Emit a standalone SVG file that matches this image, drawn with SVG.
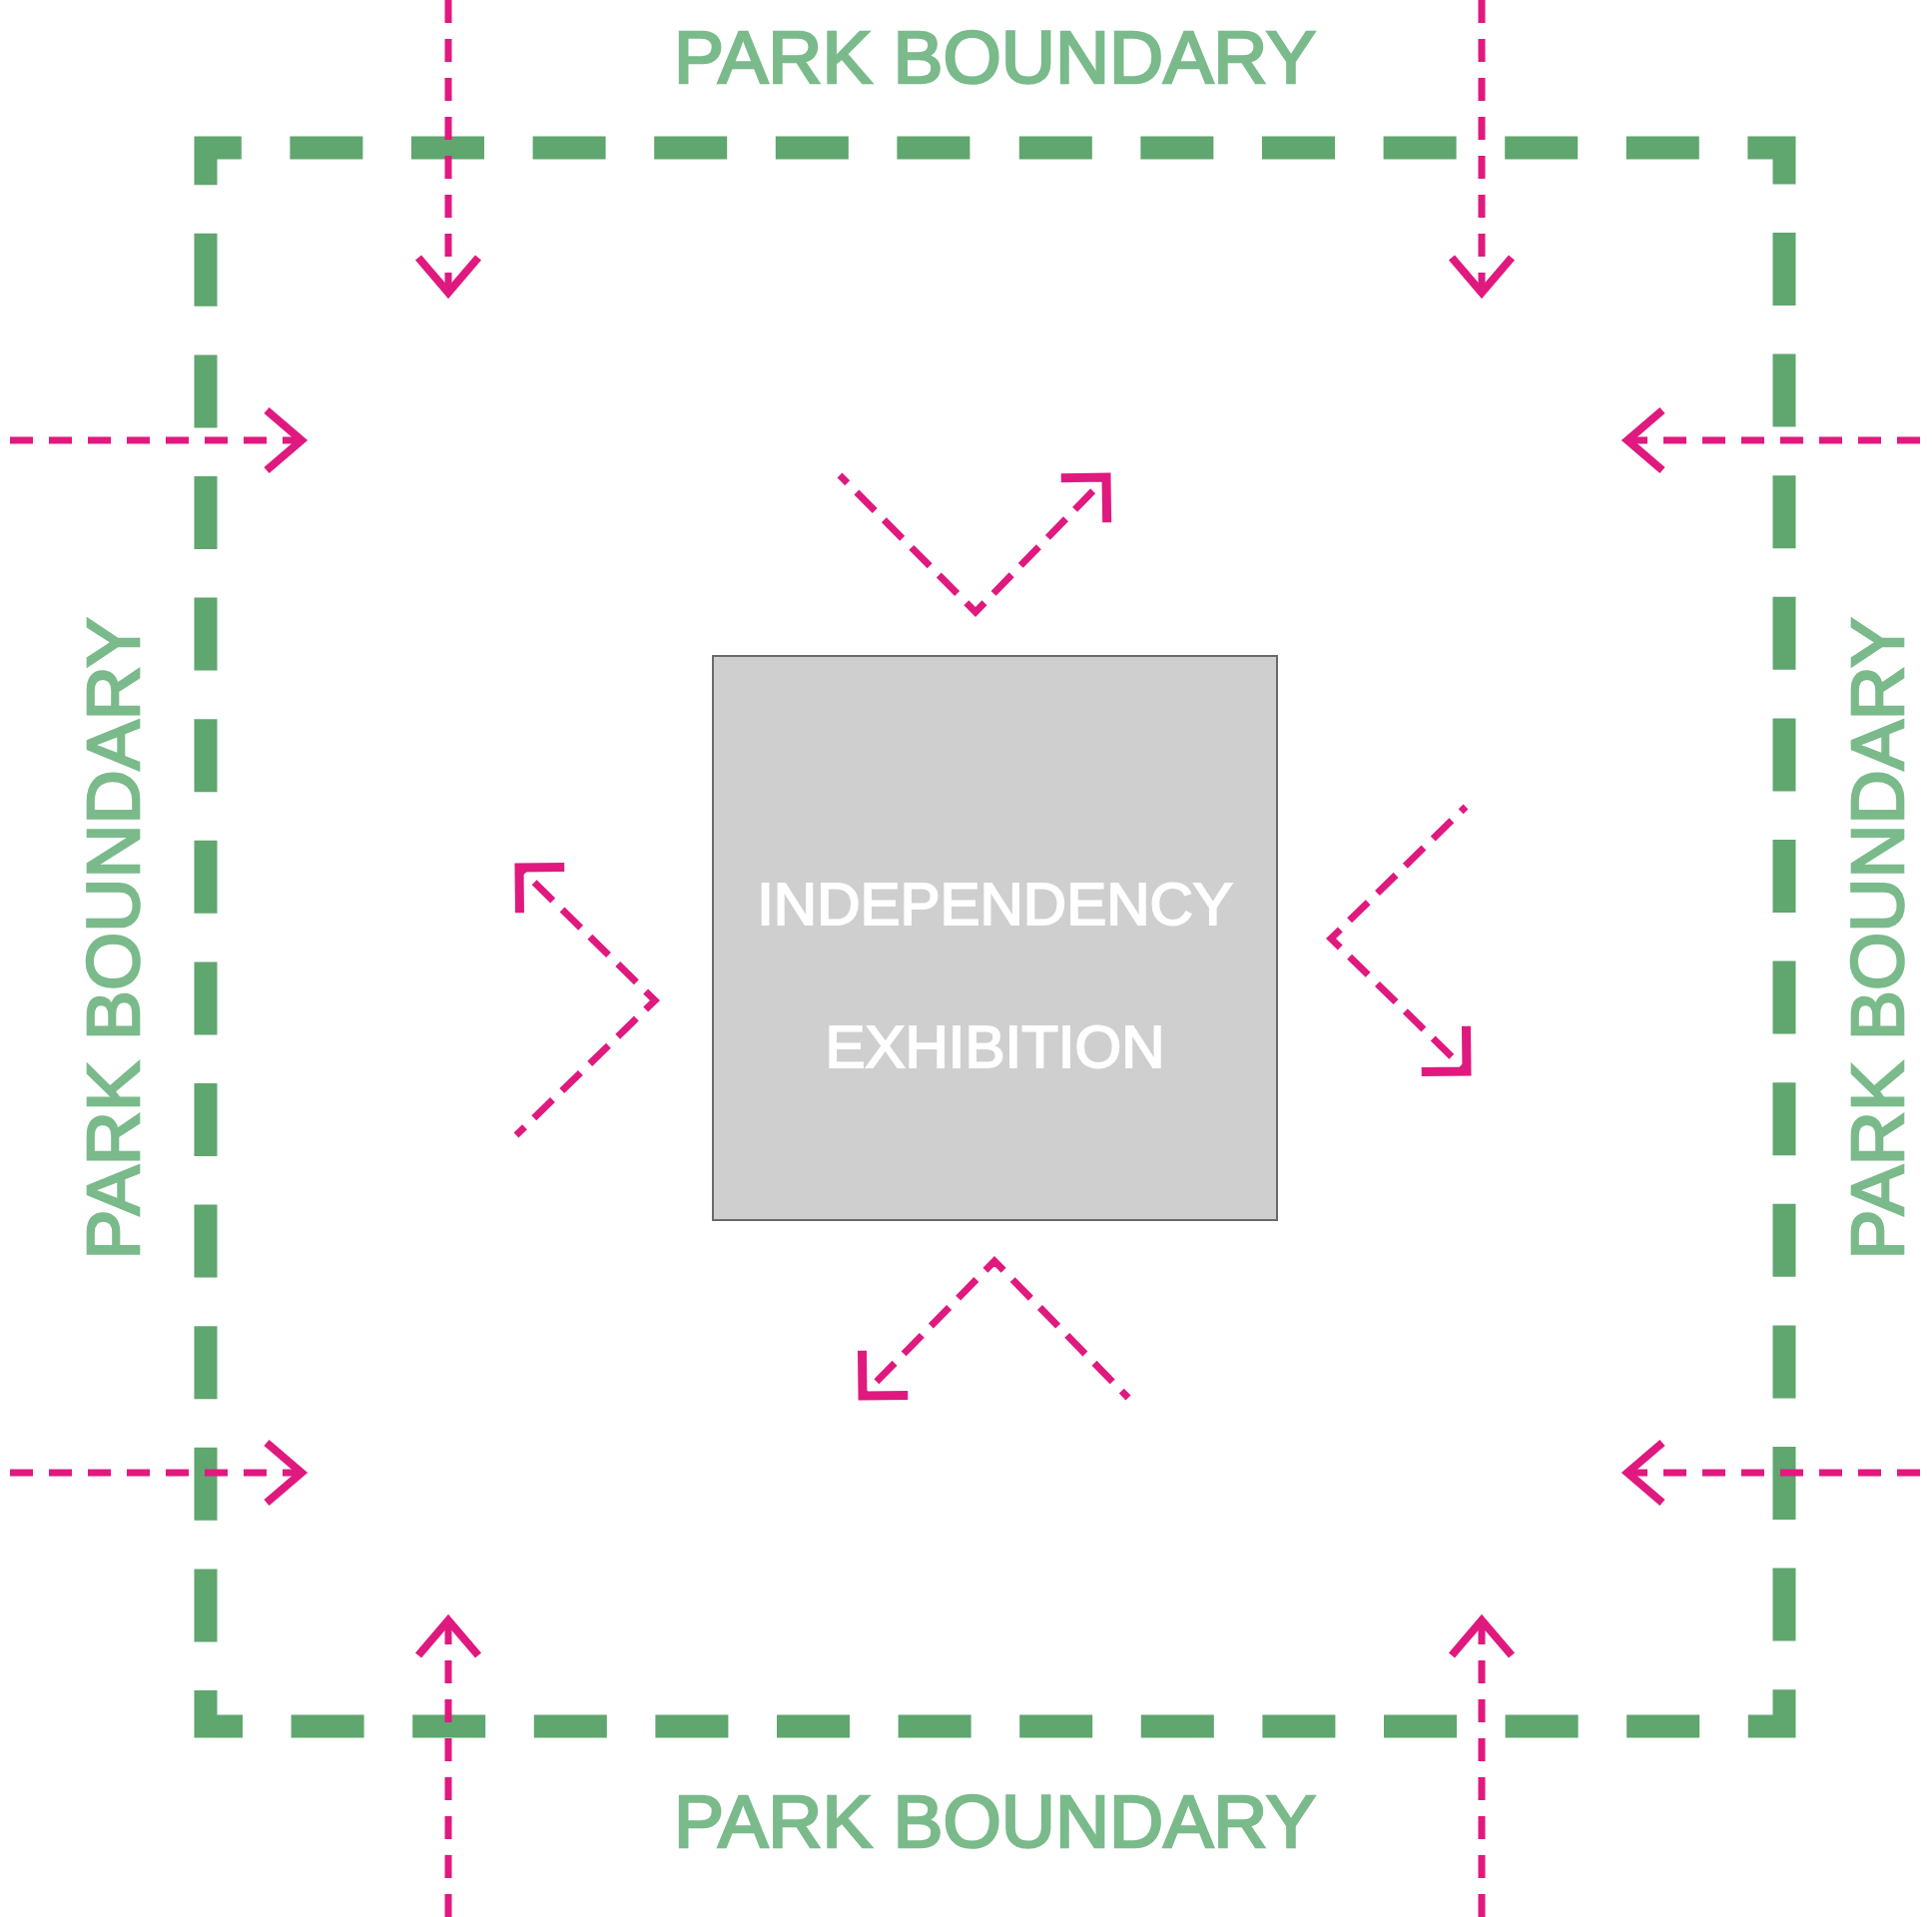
<svg xmlns="http://www.w3.org/2000/svg" width="1935" height="1920" viewBox="0 0 1935 1920">
  <style>
    .boundary { fill: none; stroke: #5fa66f; stroke-width: 23; stroke-dasharray: 73 48.6; stroke-dashoffset: 97.3; stroke-linejoin: miter; }
    .label { font-family: "Liberation Sans", Arial, sans-serif; font-weight: normal; font-size: 75px; fill: #7aba8b; stroke: #7aba8b; stroke-width: 2.6; text-anchor: middle; }
    .flow { fill: none; stroke: #e0197f; stroke-width: 7; stroke-dasharray: 23 16; }
    .inner { stroke-dasharray: 26 13; }
    .out { marker-end: url(#head-out); }
    .in { marker-end: url(#head-in); }
    .box { fill: #cfcfcf; stroke: #6a6a6a; stroke-width: 2; }
    .boxtext { font-family: "Liberation Sans", Arial, sans-serif; font-weight: normal; font-size: 60px; fill: #ffffff; stroke: #ffffff; stroke-width: 2; text-anchor: middle; }
  </style>
  <defs>
    <marker id="head-out" markerUnits="userSpaceOnUse" orient="auto" overflow="visible" markerWidth="1" markerHeight="1" refX="0" refY="0">
      <path d="M-35,-30 L0,0 L-35,30" fill="none" stroke="#e0197f" stroke-width="8"/>
    </marker>
    <marker id="head-in" markerUnits="userSpaceOnUse" orient="auto" overflow="visible" markerWidth="1" markerHeight="1" refX="0" refY="0">
      <path d="M-32,-32 L0,0 L-32,32" fill="none" stroke="#e0197f" stroke-width="9" stroke-linejoin="miter"/>
    </marker>
  </defs>
  <rect width="1935" height="1920" fill="#ffffff"/>

  <g id="park-boundary">
    <path class="boundary" d="M996.5,148 H1787 V1729 H206 V148 Z"/>
  </g>

  <g id="label-top">
    <text class="label" x="996.5" y="83">PARK BOUNDARY</text>
  </g>
  <g id="label-bottom">
    <text class="label" x="996.5" y="1850">PARK BOUNDARY</text>
  </g>
  <g id="label-left">
    <text class="label" transform="translate(139,940) rotate(-90)" x="0" y="0">PARK BOUNDARY</text>
  </g>
  <g id="label-right">
    <text class="label" transform="translate(1906,940) rotate(-90)" x="0" y="0">PARK BOUNDARY</text>
  </g>

  <g id="exhibition">
    <rect class="box" x="714" y="657" width="565" height="565"/>
    <text class="boxtext" x="996.5" y="926">INDEPENDENCY</text>
    <text class="boxtext" x="996.5" y="1069">EXHIBITION</text>
  </g>

  <g id="connectors">
    <path class="flow out" d="M449,0 V293"/>
    <path class="flow out" d="M1484,0 V293"/>
    <path class="flow out" d="M449,1920 V1623"/>
    <path class="flow out" d="M1484,1920 V1623"/>
    <path class="flow out" d="M10,441 H302"/>
    <path class="flow out" d="M10,1475 H302"/>
    <path class="flow out" d="M1923,441 H1630"/>
    <path class="flow out" d="M1923,1475 H1630"/>

    <path class="flow inner in" style="stroke-dashoffset:15" d="M841,476 L977,613 L1108,478"/>
    <path class="flow inner in" style="stroke-dashoffset:14.2" d="M517,1137 L656,1002 L520,869"/>
    <path class="flow inner in" style="stroke-dashoffset:16.4" d="M1130,1400 L996,1263 L864,1398"/>
    <path class="flow inner in" style="stroke-dashoffset:19.2" d="M1468,808 L1333,940 L1469,1073"/>
  </g>
</svg>
